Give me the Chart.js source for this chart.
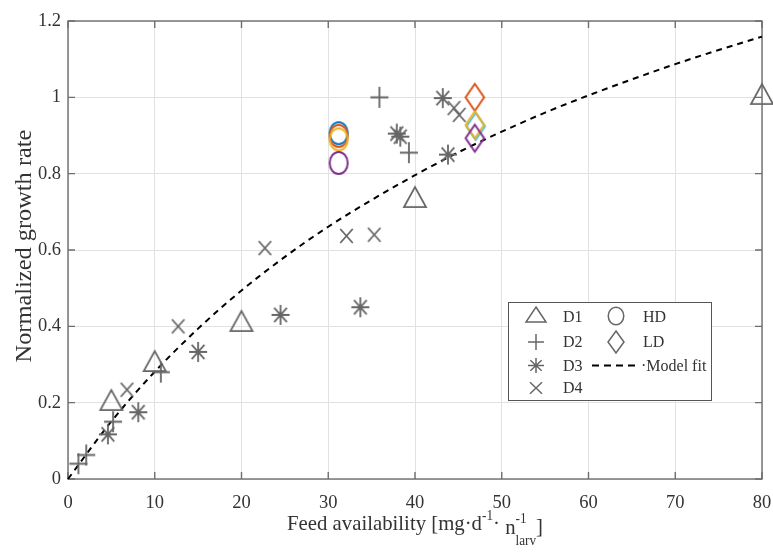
<!DOCTYPE html>
<html>
<head>
<meta charset="utf-8">
<script src="https://cdn.jsdelivr.net/npm/chart.js@4.4.1/dist/chart.umd.min.js"></script>
<style>
  html, body { margin: 0; padding: 0; background: #fff; }
  #wrap { width: 773px; height: 553px; position: relative; }
</style>
</head>
<body>
<div id="wrap"><canvas id="c" width="773" height="553"></canvas></div>
<script>
// ---------- data ----------
const xTickValues = [0, 10, 20, 30, 40, 50, 60, 70, 80];
const xTickLabels = ['0', '10', '20', '30', '40', '50', '60', '70', '80'];
const yTickValues = [0, 0.2, 0.4, 0.6, 0.8, 1.0, 1.2];
const yTickLabels = ['0', '0.2', '0.4', '0.6', '0.8', '1', '1.2'];

const d1X = [5, 10, 20, 40, 80];
const d1Y = [0.198, 0.30, 0.405, 0.73, 1.00];

const d2X = [1.2, 2.1, 5.2, 10.7, 35.9, 39.3];
const d2Y = [0.04, 0.063, 0.15, 0.28, 1.00, 0.855];

const d3X = [4.6, 8.1, 15.0, 24.5, 33.7, 37.9, 38.3, 43.2, 43.8];
const d3Y = [0.117, 0.175, 0.333, 0.43, 0.45, 0.905, 0.897, 0.998, 0.85];

const d4X = [6.8, 12.7, 22.7, 32.1, 35.3, 44.5, 45.1];
const d4Y = [0.234, 0.40, 0.605, 0.637, 0.64, 0.972, 0.954];

const hdX = [31.2, 31.2, 31.2, 31.2];
const hdY = [0.906, 0.899, 0.890, 0.828];

const ldX = [46.9, 47.0, 46.9, 46.9];
const ldY = [1.00, 0.924, 0.928, 0.893];

const fitX = [0, 5, 10, 15, 20, 25, 30, 35, 40, 45, 50, 55, 60, 65, 70, 75, 80];
const fitY = [0, 0.151, 0.281, 0.394, 0.494, 0.582, 0.661, 0.731, 0.796, 0.856, 0.91, 0.96, 1.005, 1.047, 1.087, 1.124, 1.159];

// ---------- styles ----------
const GREY = '#666666';
const hdColors = ['#0072BD', '#D95319', '#EDB120', '#7E2F8E'];
const ldColors = ['#D95319', '#4DBEEE', '#EDB120', '#7E2F8E'];
const FONT = "'Liberation Serif', 'Times New Roman', serif";
const TEXT = '#333333';

function pts(xs, ys) { return xs.map((x, i) => ({ x: x, y: ys[i] })); }

// marker glyphs (slightly taller than wide, like the reference)
function marker(kind, color, w, h, lw) {
  const pad = Math.ceil(lw) + 1;
  const c = document.createElement('canvas');
  const H = kind === 'triangle' ? (4 * h / 3) : h;
  c.width = Math.ceil(w + 2 * pad);
  c.height = Math.ceil(H + 2 * pad);
  const g = c.getContext('2d');
  g.strokeStyle = color; g.lineWidth = lw; g.lineJoin = 'miter'; g.lineCap = 'butt';
  const cx = c.width / 2, cy = c.height / 2, hw = w / 2, hh = h / 2;
  g.beginPath();
  if (kind === 'triangle') {
    g.moveTo(cx, cy - 2 * h / 3); g.lineTo(cx + hw, cy + h / 3); g.lineTo(cx - hw, cy + h / 3); g.closePath();
  } else if (kind === 'plus') {
    g.moveTo(cx - hw, cy); g.lineTo(cx + hw, cy); g.moveTo(cx, cy - hh); g.lineTo(cx, cy + hh);
  } else if (kind === 'x') {
    g.moveTo(cx - hw, cy - hh); g.lineTo(cx + hw, cy + hh); g.moveTo(cx - hw, cy + hh); g.lineTo(cx + hw, cy - hh);
  } else if (kind === 'star') {
    g.moveTo(cx - hw, cy); g.lineTo(cx + hw, cy); g.moveTo(cx, cy - hh); g.lineTo(cx, cy + hh);
    const k = Math.SQRT1_2;
    g.moveTo(cx - hw * k, cy - hh * k); g.lineTo(cx + hw * k, cy + hh * k);
    g.moveTo(cx - hw * k, cy + hh * k); g.lineTo(cx + hw * k, cy - hh * k);
  } else if (kind === 'ellipse') {
    g.ellipse(cx, cy, hw, hh, 0, 0, Math.PI * 2);
  } else if (kind === 'diamond') {
    g.moveTo(cx, cy - hh); g.lineTo(cx + hw, cy); g.lineTo(cx, cy + hh); g.lineTo(cx - hw, cy); g.closePath();
  }
  g.stroke();
  return c;
}

const mTri = marker('triangle', GREY, 22, 20, 1.8);
const mPlus = marker('plus', GREY, 18, 21, 1.8);
const mStar = marker('star', GREY, 18, 20, 1.8);
const mX = marker('x', GREY, 12.5, 14, 1.8);
const hdStyles = hdColors.map(c => marker('ellipse', c, 18, 22, 2));
const ldStyles = ldColors.map(c => marker('diamond', c, 18.5, 27, 2));

const lgTri = marker('triangle', GREY, 20, 15, 1.5);
const lgPlus = marker('plus', GREY, 16, 16, 1.5);
const lgStar = marker('star', GREY, 16, 15, 1.5);
const lgX = marker('x', GREY, 12, 11.5, 1.5);
const lgCirc = marker('ellipse', GREY, 15.5, 17.5, 1.5);
const lgDia = marker('diamond', GREY, 16, 22, 1.5);

function drawC(ctx, img, x, y) { ctx.drawImage(img, Math.round(x - img.width / 2), Math.round(y - img.height / 2)); }

// ---------- plugin: box, inner ticks, titles, legend ----------
const decor = {
  id: 'decor',
  beforeDatasetsDraw(chart) {
    const { ctx, chartArea: a, scales } = chart;
    ctx.save();
    ctx.strokeStyle = '#6e6e6e';
    ctx.lineWidth = 1.4;
    ctx.strokeRect(a.left, a.top, a.right - a.left, a.bottom - a.top);
    const tl = 7;
    ctx.beginPath();
    xTickValues.forEach(v => {
      const px = scales.x.getPixelForValue(v);
      ctx.moveTo(px, a.bottom); ctx.lineTo(px, a.bottom - tl);
      ctx.moveTo(px, a.top); ctx.lineTo(px, a.top + tl);
    });
    yTickValues.forEach(v => {
      const py = scales.y.getPixelForValue(v);
      ctx.moveTo(a.left, py); ctx.lineTo(a.left + tl, py);
      ctx.moveTo(a.right, py); ctx.lineTo(a.right - tl, py);
    });
    ctx.stroke();
    ctx.restore();
  },
  afterDatasetsDraw(chart) {
    const { ctx } = chart;
    // y title
    ctx.save();
    ctx.fillStyle = TEXT;
    ctx.font = '23px ' + FONT;
    ctx.textAlign = 'center';
    ctx.textBaseline = 'alphabetic';
    ctx.translate(31, 246);
    ctx.rotate(-Math.PI / 2);
    ctx.scale(1.06, 1);
    ctx.fillText('Normalized growth rate', 0, 0);
    ctx.restore();

    // x title with super/subscripts
    ctx.save();
    ctx.fillStyle = TEXT;
    ctx.textBaseline = 'alphabetic';
    ctx.textAlign = 'left';
    const big = '22px ' + FONT, small = '14px ' + FONT;
    const parts = [
      { t: 'Feed availability [mg\u00B7d', f: big, dy: 0 },
      { t: '-1', f: small, dy: -10 },
      { t: '\u00B7 ', f: big, dy: 0 },
      { t: 'n', f: big, dy: 4 },
      { t: '-1', f: small, dy: -7, stackWith: 'larv', sdy: 15 },
      { t: ']', f: big, dy: 3 }
    ];
    let total = 0;
    parts.forEach(p => {
      ctx.font = p.f;
      let w = ctx.measureText(p.t).width;
      if (p.stackWith) w = Math.max(w, ctx.measureText(p.stackWith).width);
      p.w = w; total += w;
    });
    const targetW = 256;
    const hs = targetW / total;
    const left = 287;
    const base = 530;
    ctx.translate(left, base);
    ctx.scale(hs, 1);
    let x = 0;
    parts.forEach(p => {
      ctx.font = p.f;
      ctx.fillText(p.t, x, p.dy);
      if (p.stackWith) ctx.fillText(p.stackWith, x, p.sdy);
      x += p.w;
    });
    ctx.restore();

    // legend
    ctx.save();
    const L = 508, T = 302.5, R = 711, B = 400.5;
    ctx.fillStyle = '#ffffff';
    ctx.fillRect(L, T, R - L, B - T);
    ctx.strokeStyle = '#555555';
    ctx.lineWidth = 1;
    ctx.strokeRect(L + 0.5, T, R - L, B - T);
    const rows = [317, 342, 365.5, 388];
    const mx = 535.5, tx = 563, mx2 = 616, tx2 = 643;
    drawC(ctx, lgTri, mx, rows[0]);
    drawC(ctx, lgPlus, mx, rows[1]);
    drawC(ctx, lgStar, mx, rows[2]);
    drawC(ctx, lgX, mx, rows[3]);
    drawC(ctx, lgCirc, mx2, rows[0] - 1);
    drawC(ctx, lgDia, mx2, rows[1]);
    ctx.strokeStyle = '#000';
    ctx.lineWidth = 2;
    ctx.setLineDash([7, 5]);
    ctx.beginPath();
    ctx.moveTo(592, rows[2]); ctx.lineTo(640, rows[2]);
    ctx.stroke();
    ctx.setLineDash([]);
    ctx.fillStyle = TEXT;
    ctx.font = '16px ' + FONT;
    ctx.textBaseline = 'middle';
    ctx.textAlign = 'left';
    ['D1', 'D2', 'D3', 'D4'].forEach((t, i) => ctx.fillText(t, tx, rows[i] + 1));
    ctx.fillText('HD', tx2, rows[0] + 1);
    ctx.fillText('LD', tx2, rows[1] + 1);
    ctx.fillText('\u00B7Model fit', 641, rows[2] + 1);
    ctx.restore();
  }
};

function markerSet(label, xs, ys, style) {
  return { label: label, data: pts(xs, ys), pointStyle: style, pointRadius: 10, showLine: false, clip: false,
           borderColor: GREY, backgroundColor: 'rgba(0,0,0,0)' };
}

new Chart(document.getElementById('c'), {
  type: 'scatter',
  data: {
    datasets: [
      markerSet('LD', ldX, ldY, ldStyles),
      markerSet('HD', hdX, hdY, hdStyles),
      markerSet('D1', d1X, d1Y, mTri),
      markerSet('D2', d2X, d2Y, mPlus),
      markerSet('D3', d3X, d3Y, mStar),
      markerSet('D4', d4X, d4Y, mX),
      { label: 'Model fit', type: 'line', data: pts(fitX, fitY), borderColor: '#000', borderWidth: 2,
        borderDash: [6, 5], pointRadius: 0, fill: false, cubicInterpolationMode: 'monotone', showLine: true, clip: false }
    ]
  },
  options: {
    responsive: false,
    animation: false,
    events: [],
    layout: { padding: { top: 21, right: 9, left: 0, bottom: 0 } },
    plugins: { legend: { display: false }, tooltip: { enabled: false }, title: { display: false } },
    scales: {
      x: {
        type: 'linear', min: 0, max: 80,
        afterBuildTicks: s => { s.ticks = xTickValues.map(v => ({ value: v })); },
        afterFit: s => { s.height = 74; s.paddingLeft = 0; s.paddingRight = 0; },
        ticks: { callback: (v, i) => xTickLabels[i], font: { family: FONT, size: 18.5 }, color: TEXT, padding: 13, maxRotation: 0, autoSkip: false },
        grid: { color: '#e2e2e2', lineWidth: 1, drawTicks: false },
        border: { display: false }
      },
      y: {
        type: 'linear', min: 0, max: 1.2,
        afterBuildTicks: s => { s.ticks = yTickValues.map(v => ({ value: v })); },
        afterFit: s => { s.width = 68; s.paddingTop = 0; s.paddingBottom = 0; },
        ticks: { callback: (v, i) => yTickLabels[i], font: { family: FONT, size: 18.5 }, color: TEXT, padding: 7, autoSkip: false },
        grid: { color: '#e2e2e2', lineWidth: 1, drawTicks: false },
        border: { display: false }
      }
    }
  },
  plugins: [decor]
});
</script>
</body>
</html>
